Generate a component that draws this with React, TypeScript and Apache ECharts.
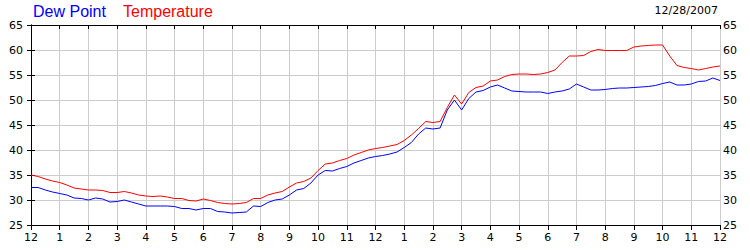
import React, { useEffect, useRef } from "react";
import * as echarts from "echarts";

const hours: number[] = [
  0, 0.25, 0.5, 0.75, 1, 1.25, 1.5, 1.75, 2, 2.25, 2.5, 2.75, 3, 3.25, 3.5, 3.75,
  4, 4.25, 4.5, 4.75, 5, 5.25, 5.5, 5.75, 6, 6.25, 6.5, 6.75, 7, 7.25, 7.5, 7.75,
  8, 8.25, 8.5, 8.75, 9, 9.25, 9.5, 9.75, 10, 10.25, 10.5, 10.75, 11, 11.25, 11.5, 11.75,
  12, 12.25, 12.5, 12.75, 13, 13.25, 13.5, 13.75, 14, 14.25, 14.5, 14.75, 15, 15.25, 15.5, 15.75,
  16, 16.25, 16.5, 16.75, 17, 17.25, 17.5, 17.75, 18, 18.25, 18.5, 18.75, 19, 19.25, 19.5, 19.75,
  20, 20.25, 20.5, 20.75, 21, 21.25, 21.5, 21.75, 22, 22.25, 22.5, 22.75, 23, 23.25, 23.5, 23.75, 24,
];

const temperature: number[] = [
  35.0, 34.7, 34.2, 33.8, 33.5, 33.0, 32.4, 32.2, 32.0, 32.0, 31.9, 31.5, 31.5, 31.7, 31.4, 31.0,
  30.8, 30.7, 30.8, 30.6, 30.3, 30.3, 29.9, 29.8, 30.2, 29.9, 29.5, 29.3, 29.2, 29.3, 29.5, 30.3,
  30.3, 31.0, 31.4, 31.7, 32.6, 33.4, 33.7, 34.4, 35.9, 37.2, 37.4, 37.9, 38.3, 39.0, 39.5, 40.0,
  40.3, 40.5, 40.8, 41.1, 41.9, 43.0, 44.3, 45.7, 45.5, 45.7, 48.5, 51.0, 49.2, 51.5, 52.5, 52.8,
  53.8, 54.0, 54.7, 55.1, 55.2, 55.2, 55.1, 55.2, 55.5, 56.0, 57.5, 58.8, 58.8, 58.9, 59.7, 60.1,
  59.9, 59.9, 59.9, 59.9, 60.6, 60.8, 60.9, 61.0, 61.0, 58.8, 56.9, 56.5, 56.3, 56.0, 56.3, 56.6, 56.8,
];

const dewPoint: number[] = [
  32.5, 32.5, 32.0, 31.6, 31.3, 31.0, 30.4, 30.3, 30.0, 30.4, 30.2, 29.6, 29.7, 30.0, 29.6, 29.2,
  28.8, 28.8, 28.8, 28.8, 28.7, 28.3, 28.3, 28.0, 28.3, 28.3, 27.7, 27.6, 27.4, 27.5, 27.6, 28.8,
  28.7, 29.5, 30.0, 30.2, 31.0, 32.0, 32.3, 33.4, 35.0, 35.9, 35.8, 36.3, 36.7, 37.4, 37.9, 38.4,
  38.7, 38.9, 39.2, 39.6, 40.5, 41.5, 43.2, 44.4, 44.2, 44.4, 48.0, 50.0, 48.0, 50.3, 51.6, 51.9,
  52.6, 53.0, 52.4, 51.8, 51.7, 51.6, 51.6, 51.6, 51.3, 51.6, 51.8, 52.2, 53.2, 52.6, 52.0, 52.0,
  52.1, 52.3, 52.4, 52.4, 52.5, 52.6, 52.7, 52.9, 53.3, 53.6, 53.0, 53.0, 53.2, 53.7, 53.8, 54.4, 53.9,
];

const dateLabel = "12/28/2007";
const legendNames = ["Dew Point", "Temperature"];

export default function App() {
  const ref = useRef<HTMLDivElement>(null);
  useEffect(() => {
    if (!ref.current) return;
    const chart = echarts.init(ref.current, null, { renderer: "svg" });
    const axisFont = { fontFamily: "DejaVu Sans", fontSize: 11, color: "#000" };
    const gridLine = { show: true, lineStyle: { color: "#cccccc", width: 1 } };
    const yCommon = {
      type: "value",
      min: 25,
      max: 65,
      interval: 5,
      axisLine: { show: true, lineStyle: { color: "#000", width: 1 } },
      axisTick: { show: true, inside: true, length: 4, lineStyle: { color: "#000" } },
    };
    const hourLabel = (v: number) => {
      const h = Math.round(v) % 12;
      return String(h === 0 ? 12 : h);
    };
    chart.setOption({
      animation: false,
      backgroundColor: "#fff",
      grid: { left: 31, right: 30, top: 25, bottom: 25, containLabel: false },
      graphic: [
        {
          type: "text",
          left: 33,
          top: 3,
          style: { text: legendNames[0], fill: "#0000ff", font: "16px 'Liberation Sans'" },
        },
        {
          type: "text",
          left: 123,
          top: 3,
          style: { text: legendNames[1], fill: "#ff0000", font: "16px 'Liberation Sans'" },
        },
        {
          type: "text",
          right: 32,
          top: 5,
          style: { text: dateLabel, fill: "#000", font: "11px 'DejaVu Sans'" },
        },
      ],
      xAxis: [
        {
          type: "value",
          position: "bottom",
          min: 0,
          max: 24,
          interval: 1,
          axisLine: { show: true, onZero: false, lineStyle: { color: "#000", width: 1 } },
          axisTick: { show: true, inside: false, length: 5, lineStyle: { color: "#000" } },
          axisLabel: { ...axisFont, margin: 7, formatter: hourLabel, showMinLabel: true, showMaxLabel: true },
          splitLine: gridLine,
        },
        {
          type: "value",
          position: "top",
          min: 0,
          max: 24,
          interval: 1,
          axisLine: { show: true, onZero: false, lineStyle: { color: "#000", width: 1 } },
          axisTick: { show: true, inside: true, length: 4, lineStyle: { color: "#000" } },
          axisLabel: { show: false },
          splitLine: { show: false },
        },
      ],
      yAxis: [
        {
          ...yCommon,
          position: "left",
          axisLabel: { ...axisFont, margin: 8 },
          splitLine: gridLine,
        },
        {
          ...yCommon,
          position: "right",
          axisLabel: { ...axisFont, margin: 3 },
          splitLine: { show: false },
        },
      ],
      series: [
        {
          name: legendNames[0],
          type: "line",
          data: hours.map((h, i) => [h, dewPoint[i]]),
          showSymbol: false,
          lineStyle: { color: "#0000ff", width: 1 },
          z: 3,
        },
        {
          name: legendNames[1],
          type: "line",
          data: hours.map((h, i) => [h, temperature[i]]),
          showSymbol: false,
          lineStyle: { color: "#ff0000", width: 1 },
          z: 3,
        },
      ],
    });
    return () => chart.dispose();
  }, []);
  return (
    <div
      ref={ref}
      style={{ position: "fixed", left: 0, top: 0, width: 750, height: 250, background: "#fff" }}
    />
  );
}
